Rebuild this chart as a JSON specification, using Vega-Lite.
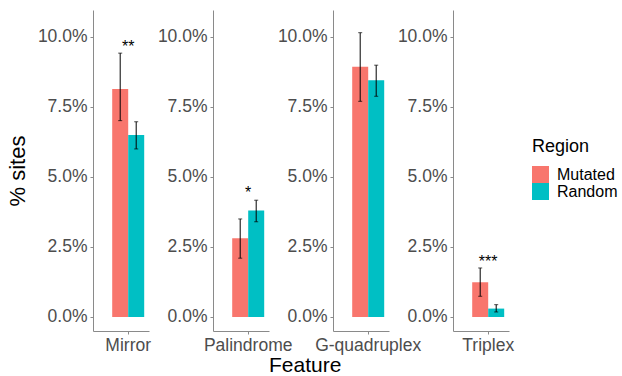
{
  "$schema": "https://vega.github.io/schema/vega-lite/v6.json",
  "padding": {"left": 6, "top": 10, "right": 5, "bottom": 0},
  "datasets": {
    "rates": [
      {"Feature": "Mirror", "Region": "Mutated", "value": 0.0814, "lo": 0.0701, "hi": 0.0942},
      {"Feature": "Mirror", "Region": "Random", "value": 0.0650, "lo": 0.0600, "hi": 0.0697},
      {"Feature": "Palindrome", "Region": "Mutated", "value": 0.0281, "lo": 0.0210, "hi": 0.0350},
      {"Feature": "Palindrome", "Region": "Random", "value": 0.0380, "lo": 0.0340, "hi": 0.0417},
      {"Feature": "G-quadruplex", "Region": "Mutated", "value": 0.0893, "lo": 0.0770, "hi": 0.1015},
      {"Feature": "G-quadruplex", "Region": "Random", "value": 0.0845, "lo": 0.0788, "hi": 0.0899},
      {"Feature": "Triplex", "Region": "Mutated", "value": 0.0124, "lo": 0.0074, "hi": 0.0175},
      {"Feature": "Triplex", "Region": "Random", "value": 0.0030, "lo": 0.0018, "hi": 0.0044}
    ],
    "sig": [
      {"Feature": "Mirror", "stars": "**", "at": 0.0979},
      {"Feature": "Palindrome", "stars": "*", "at": 0.0457},
      {"Feature": "Triplex", "stars": "***", "at": 0.0212}
    ]
  },
  "title": {
    "text": "Feature",
    "orient": "bottom",
    "anchor": "middle",
    "frame": "bounds",
    "dx": -7,
    "fontSize": 21,
    "fontWeight": "normal",
    "color": "#000000",
    "offset": 1
  },
  "spacing": 64,
  "bounds": "flush",
  "hconcat": [
    {
      "width": 56, "height": 321,
      "layer": [
        {
          "data": {"name": "rates"},
          "transform": [{"filter": "datum.Feature === 'Mirror'"}],
          "mark": {"type": "bar"},
          "encoding": {
            "x": {"field": "Feature", "type": "nominal", "scale": {"type": "band", "paddingInner": 0, "paddingOuter": 0.375, "align": 0.8}, "axis": {"title": null, "labelAngle": 0}},
            "xOffset": {"field": "Region", "type": "nominal", "scale": {"paddingInner": 0, "paddingOuter": 0}},
            "y": {"field": "value", "type": "quantitative", "scale": {"domain": [-0.005, 0.1096], "nice": false, "zero": false}, "axis": {"title": "% sites", "values": [0, 0.025, 0.05, 0.075, 0.1], "format": ".1%"}},
            "y2": {"datum": 0},
            "color": {"field": "Region", "type": "nominal", "scale": {"domain": ["Mutated", "Random"], "range": ["#F8766D", "#00BFC4"]}, "legend": {"title": "Region", "orient": "none", "legendX": 439, "legendY": 128}}
          }
        },
        {
          "data": {"name": "rates"},
          "transform": [{"filter": "datum.Feature === 'Mirror'"}],
          "mark": {"type": "rule", "color": "#000000", "strokeWidth": 1},
          "encoding": {
            "x": {"field": "Feature", "type": "nominal"},
            "xOffset": {"field": "Region", "type": "nominal"},
            "y": {"field": "lo", "type": "quantitative"},
            "y2": {"field": "hi"}
          }
        },
        {
          "data": {"name": "rates"},
          "transform": [{"filter": "datum.Feature === 'Mirror'"}],
          "mark": {"type": "tick", "color": "#000000", "size": 4, "thickness": 1, "orient": "horizontal"},
          "encoding": {
            "x": {"field": "Feature", "type": "nominal"},
            "xOffset": {"field": "Region", "type": "nominal"},
            "y": {"field": "lo", "type": "quantitative"}
          }
        },
        {
          "data": {"name": "rates"},
          "transform": [{"filter": "datum.Feature === 'Mirror'"}],
          "mark": {"type": "tick", "color": "#000000", "size": 4, "thickness": 1, "orient": "horizontal"},
          "encoding": {
            "x": {"field": "Feature", "type": "nominal"},
            "xOffset": {"field": "Region", "type": "nominal"},
            "y": {"field": "hi", "type": "quantitative"}
          }
        },
        {
          "data": {"name": "sig"},
          "transform": [{"filter": "datum.Feature === 'Mirror'"}],
          "mark": {"type": "text", "fontSize": 16, "baseline": "alphabetic", "dy": 9, "color": "#000000"},
          "encoding": {
            "x": {"field": "Feature", "type": "nominal"},
            "y": {"field": "at", "type": "quantitative"},
            "text": {"field": "stars"}
          }
        }
      ]
    },
    {
      "width": 56, "height": 321,
      "layer": [
        {
          "data": {"name": "rates"},
          "transform": [{"filter": "datum.Feature === 'Palindrome'"}],
          "mark": {"type": "bar"},
          "encoding": {
            "x": {"field": "Feature", "type": "nominal", "scale": {"type": "band", "paddingInner": 0, "paddingOuter": 0.375, "align": 0.8}, "axis": {"title": null, "labelAngle": 0}},
            "xOffset": {"field": "Region", "type": "nominal", "scale": {"paddingInner": 0, "paddingOuter": 0}},
            "y": {"field": "value", "type": "quantitative", "scale": {"domain": [-0.005, 0.1096], "nice": false, "zero": false}, "axis": {"title": null, "values": [0, 0.025, 0.05, 0.075, 0.1], "format": ".1%"}},
            "y2": {"datum": 0},
            "color": {"field": "Region", "type": "nominal", "scale": {"domain": ["Mutated", "Random"], "range": ["#F8766D", "#00BFC4"]}, "legend": {"title": "Region", "orient": "none", "legendX": 439, "legendY": 128}}
          }
        },
        {
          "data": {"name": "rates"},
          "transform": [{"filter": "datum.Feature === 'Palindrome'"}],
          "mark": {"type": "rule", "color": "#000000", "strokeWidth": 1},
          "encoding": {
            "x": {"field": "Feature", "type": "nominal"},
            "xOffset": {"field": "Region", "type": "nominal"},
            "y": {"field": "lo", "type": "quantitative"},
            "y2": {"field": "hi"}
          }
        },
        {
          "data": {"name": "rates"},
          "transform": [{"filter": "datum.Feature === 'Palindrome'"}],
          "mark": {"type": "tick", "color": "#000000", "size": 4, "thickness": 1, "orient": "horizontal"},
          "encoding": {
            "x": {"field": "Feature", "type": "nominal"},
            "xOffset": {"field": "Region", "type": "nominal"},
            "y": {"field": "lo", "type": "quantitative"}
          }
        },
        {
          "data": {"name": "rates"},
          "transform": [{"filter": "datum.Feature === 'Palindrome'"}],
          "mark": {"type": "tick", "color": "#000000", "size": 4, "thickness": 1, "orient": "horizontal"},
          "encoding": {
            "x": {"field": "Feature", "type": "nominal"},
            "xOffset": {"field": "Region", "type": "nominal"},
            "y": {"field": "hi", "type": "quantitative"}
          }
        },
        {
          "data": {"name": "sig"},
          "transform": [{"filter": "datum.Feature === 'Palindrome'"}],
          "mark": {"type": "text", "fontSize": 16, "baseline": "alphabetic", "dy": 9, "color": "#000000"},
          "encoding": {
            "x": {"field": "Feature", "type": "nominal"},
            "y": {"field": "at", "type": "quantitative"},
            "text": {"field": "stars"}
          }
        }
      ]
    },
    {
      "width": 56, "height": 321,
      "layer": [
        {
          "data": {"name": "rates"},
          "transform": [{"filter": "datum.Feature === 'G-quadruplex'"}],
          "mark": {"type": "bar"},
          "encoding": {
            "x": {"field": "Feature", "type": "nominal", "scale": {"type": "band", "paddingInner": 0, "paddingOuter": 0.375, "align": 0.8}, "axis": {"title": null, "labelAngle": 0}},
            "xOffset": {"field": "Region", "type": "nominal", "scale": {"paddingInner": 0, "paddingOuter": 0}},
            "y": {"field": "value", "type": "quantitative", "scale": {"domain": [-0.005, 0.1096], "nice": false, "zero": false}, "axis": {"title": null, "values": [0, 0.025, 0.05, 0.075, 0.1], "format": ".1%"}},
            "y2": {"datum": 0},
            "color": {"field": "Region", "type": "nominal", "scale": {"domain": ["Mutated", "Random"], "range": ["#F8766D", "#00BFC4"]}, "legend": {"title": "Region", "orient": "none", "legendX": 439, "legendY": 128}}
          }
        },
        {
          "data": {"name": "rates"},
          "transform": [{"filter": "datum.Feature === 'G-quadruplex'"}],
          "mark": {"type": "rule", "color": "#000000", "strokeWidth": 1},
          "encoding": {
            "x": {"field": "Feature", "type": "nominal"},
            "xOffset": {"field": "Region", "type": "nominal"},
            "y": {"field": "lo", "type": "quantitative"},
            "y2": {"field": "hi"}
          }
        },
        {
          "data": {"name": "rates"},
          "transform": [{"filter": "datum.Feature === 'G-quadruplex'"}],
          "mark": {"type": "tick", "color": "#000000", "size": 4, "thickness": 1, "orient": "horizontal"},
          "encoding": {
            "x": {"field": "Feature", "type": "nominal"},
            "xOffset": {"field": "Region", "type": "nominal"},
            "y": {"field": "lo", "type": "quantitative"}
          }
        },
        {
          "data": {"name": "rates"},
          "transform": [{"filter": "datum.Feature === 'G-quadruplex'"}],
          "mark": {"type": "tick", "color": "#000000", "size": 4, "thickness": 1, "orient": "horizontal"},
          "encoding": {
            "x": {"field": "Feature", "type": "nominal"},
            "xOffset": {"field": "Region", "type": "nominal"},
            "y": {"field": "hi", "type": "quantitative"}
          }
        }
      ]
    },
    {
      "width": 56, "height": 321,
      "layer": [
        {
          "data": {"name": "rates"},
          "transform": [{"filter": "datum.Feature === 'Triplex'"}],
          "mark": {"type": "bar"},
          "encoding": {
            "x": {"field": "Feature", "type": "nominal", "scale": {"type": "band", "paddingInner": 0, "paddingOuter": 0.375, "align": 0.8}, "axis": {"title": null, "labelAngle": 0}},
            "xOffset": {"field": "Region", "type": "nominal", "scale": {"paddingInner": 0, "paddingOuter": 0}},
            "y": {"field": "value", "type": "quantitative", "scale": {"domain": [-0.005, 0.1096], "nice": false, "zero": false}, "axis": {"title": null, "values": [0, 0.025, 0.05, 0.075, 0.1], "format": ".1%"}},
            "y2": {"datum": 0},
            "color": {"field": "Region", "type": "nominal", "scale": {"domain": ["Mutated", "Random"], "range": ["#F8766D", "#00BFC4"]}, "legend": {"title": "Region", "orient": "none", "legendX": 439, "legendY": 128}}
          }
        },
        {
          "data": {"name": "rates"},
          "transform": [{"filter": "datum.Feature === 'Triplex'"}],
          "mark": {"type": "rule", "color": "#000000", "strokeWidth": 1},
          "encoding": {
            "x": {"field": "Feature", "type": "nominal"},
            "xOffset": {"field": "Region", "type": "nominal"},
            "y": {"field": "lo", "type": "quantitative"},
            "y2": {"field": "hi"}
          }
        },
        {
          "data": {"name": "rates"},
          "transform": [{"filter": "datum.Feature === 'Triplex'"}],
          "mark": {"type": "tick", "color": "#000000", "size": 4, "thickness": 1, "orient": "horizontal"},
          "encoding": {
            "x": {"field": "Feature", "type": "nominal"},
            "xOffset": {"field": "Region", "type": "nominal"},
            "y": {"field": "lo", "type": "quantitative"}
          }
        },
        {
          "data": {"name": "rates"},
          "transform": [{"filter": "datum.Feature === 'Triplex'"}],
          "mark": {"type": "tick", "color": "#000000", "size": 4, "thickness": 1, "orient": "horizontal"},
          "encoding": {
            "x": {"field": "Feature", "type": "nominal"},
            "xOffset": {"field": "Region", "type": "nominal"},
            "y": {"field": "hi", "type": "quantitative"}
          }
        },
        {
          "data": {"name": "sig"},
          "transform": [{"filter": "datum.Feature === 'Triplex'"}],
          "mark": {"type": "text", "fontSize": 16, "baseline": "alphabetic", "dy": 9, "color": "#000000"},
          "encoding": {
            "x": {"field": "Feature", "type": "nominal"},
            "y": {"field": "at", "type": "quantitative"},
            "text": {"field": "stars"}
          }
        }
      ]
    }
  ],
  "resolve": {"scale": {"color": "shared"}},
  "config": {
    "font": "Liberation Sans",
    "background": "#ffffff",
    "view": {"stroke": null},
    "axis": {
      "grid": false,
      "domainColor": "#8a8a8a",
      "domainWidth": 1,
      "tickColor": "#8a8a8a",
      "tickSize": 3,
      "labelFontSize": 17.5,
      "labelColor": "#4d4d4d",
      "labelPadding": 3,
      "labelFont": "Liberation Sans",
      "titleFont": "Liberation Sans",
      "titleFontSize": 22,
      "titleFontWeight": "normal",
      "titleColor": "#000000",
      "titlePadding": 8
    },
    "axisX": {"labelPadding": 2},
    "legend": {
      "titleFontSize": 18,
      "titleFontWeight": "normal",
      "titleColor": "#000000",
      "titlePadding": 10,
      "labelFontSize": 16,
      "labelColor": "#000000",
      "symbolType": "square",
      "symbolSize": 289,
      "symbolStrokeWidth": 0,
      "symbolOpacity": 1,
      "rowPadding": 0,
      "labelOffset": 8
    }
  }
}
